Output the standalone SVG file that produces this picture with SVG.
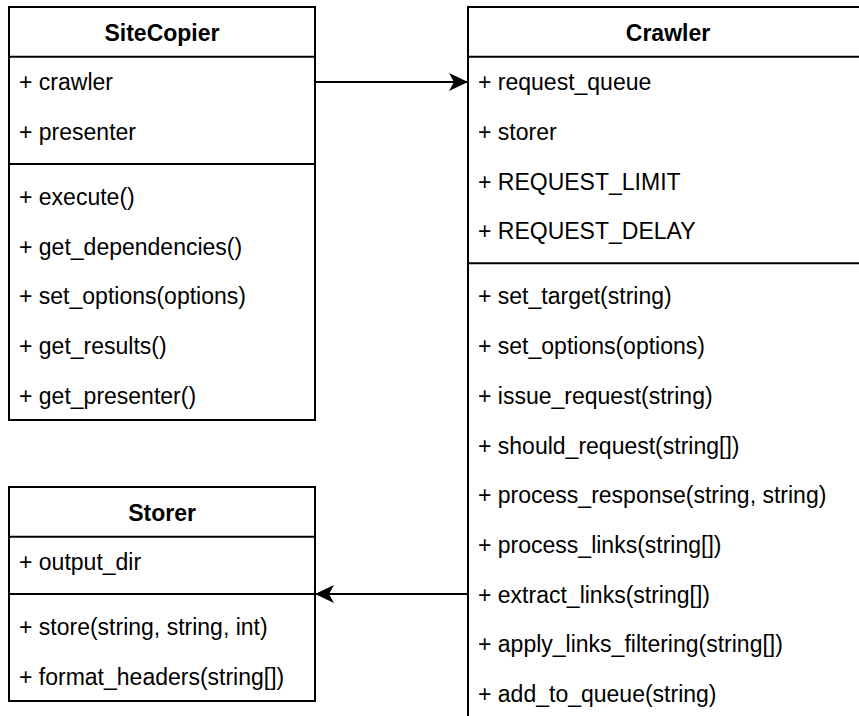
<svg xmlns="http://www.w3.org/2000/svg" width="859" height="716" viewBox="0 0 859 716">
<style>
.box{fill:#fff;stroke:#000;stroke-width:2}
.ln{stroke:#000;stroke-width:2;fill:none}
.t{font-family:"Liberation Sans",Arial,Helvetica,sans-serif;font-size:23px;fill:#000}
.h{font-family:"Liberation Sans",Arial,Helvetica,sans-serif;font-size:23px;font-weight:bold;fill:#000;text-anchor:middle}
</style>
<defs>
<marker id="arr" markerUnits="userSpaceOnUse" markerWidth="20" markerHeight="20" viewBox="0 0 20 20" refX="19" refY="10" orient="auto">
<path d="M19,10 L0,1 L5,10 L0,19 Z" fill="#000"/>
</marker>
</defs>
<g id="SiteCopier">
<rect class="box" x="9" y="7" width="306" height="413"/>
<line class="ln" x1="9" y1="56.7" x2="315" y2="56.7"/>
<line class="ln" x1="9" y1="164" x2="315" y2="164"/>
<text class="h" x="162" y="41.4">SiteCopier</text>
<text class="t" x="19" y="90.2">+ crawler</text>
<text class="t" x="19" y="139.9">+ presenter</text>
<text class="t" x="19" y="204.9">+ execute()</text>
<text class="t" x="19" y="254.6">+ get_dependencies()</text>
<text class="t" x="19" y="304.3">+ set_options(options)</text>
<text class="t" x="19" y="354">+ get_results()</text>
<text class="t" x="19" y="403.7">+ get_presenter()</text>
</g>
<g id="Crawler">
<rect class="box" x="468" y="7" width="400" height="712"/>
<line class="ln" x1="468" y1="56.7" x2="868" y2="56.7"/>
<line class="ln" x1="468" y1="263.2" x2="868" y2="263.2"/>
<text class="h" x="668" y="41.4">Crawler</text>
<text class="t" x="478" y="90.2">+ request_queue</text>
<text class="t" x="478" y="139.9">+ storer</text>
<text class="t" x="478" y="189.6">+ REQUEST_LIMIT</text>
<text class="t" x="478" y="239.3">+ REQUEST_DELAY</text>
<text class="t" x="478" y="304.4">+ set_target(string)</text>
<text class="t" x="478" y="354.1">+ set_options(options)</text>
<text class="t" x="478" y="403.8">+ issue_request(string)</text>
<text class="t" x="478" y="453.5">+ should_request(string[])</text>
<text class="t" x="478" y="503.2">+ process_response(string, string)</text>
<text class="t" x="478" y="552.9">+ process_links(string[])</text>
<text class="t" x="478" y="602.6">+ extract_links(string[])</text>
<text class="t" x="478" y="652.3">+ apply_links_filtering(string[])</text>
<text class="t" x="478" y="702">+ add_to_queue(string)</text>
</g>
<g id="Storer">
<rect class="box" x="9" y="487" width="306" height="214"/>
<line class="ln" x1="9" y1="536.7" x2="315" y2="536.7"/>
<line class="ln" x1="9" y1="594" x2="315" y2="594"/>
<text class="h" x="162" y="521.4">Storer</text>
<text class="t" x="19" y="570.2">+ output_dir</text>
<text class="t" x="19" y="635.2">+ store(string, string, int)</text>
<text class="t" x="19" y="684.9">+ format_headers(string[])</text>
</g>
<g id="connectors">
<line class="ln" x1="315" y1="82" x2="468" y2="82" marker-end="url(#arr)"/>
<line class="ln" x1="468" y1="594" x2="315" y2="594" marker-end="url(#arr)"/>
</g>
</svg>
